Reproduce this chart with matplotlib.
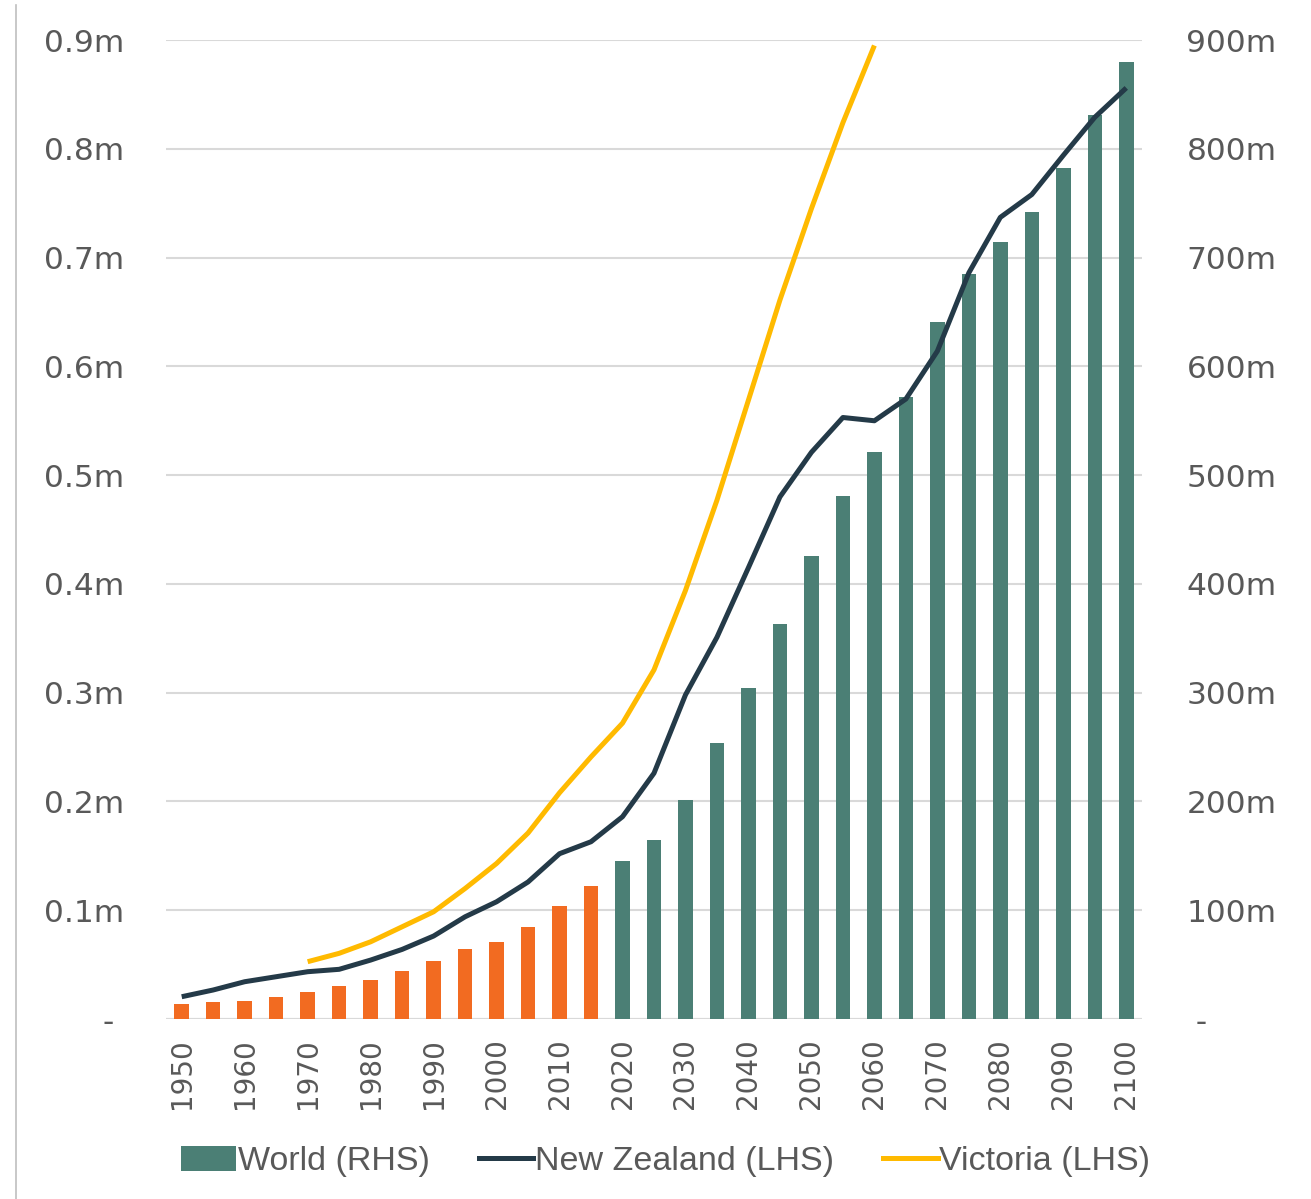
import matplotlib
matplotlib.use("Agg")
import matplotlib.pyplot as plt
from matplotlib.patches import Patch
from matplotlib.lines import Line2D
import numpy as np

# ---- data ----
years = [1950, 1955, 1960, 1965, 1970, 1975, 1980, 1985, 1990, 1995, 2000,
         2005, 2010, 2015, 2020, 2025, 2030, 2035, 2040, 2045, 2050, 2055,
         2060, 2065, 2070, 2075, 2080, 2085, 2090, 2095, 2100]
world_m = [13.5, 16, 17, 20.5, 25, 30, 36, 44, 53, 64, 71, 85, 104, 122.5,
           145, 164.5, 201, 254, 304, 363, 426, 481, 521, 572, 641, 685, 714,
           742, 782, 831, 880]
nz_m = [0.0205, 0.0267, 0.0343, 0.0389, 0.0435, 0.0457, 0.0542, 0.064, 0.0763,
        0.094, 0.1078, 0.126, 0.152, 0.163, 0.186, 0.226, 0.298, 0.351, 0.415,
        0.480, 0.521, 0.553, 0.550, 0.570, 0.614, 0.686, 0.737, 0.758, 0.794,
        0.829, 0.856]
vic_years = [1970, 1975, 1980, 1985, 1990, 1995, 2000, 2005, 2010, 2015, 2020,
             2025, 2030, 2035, 2040, 2045, 2050, 2055, 2060]
vic_m = [0.0527, 0.0604, 0.071, 0.0848, 0.0986, 0.120, 0.143, 0.171, 0.208,
         0.241, 0.272, 0.321, 0.394, 0.477, 0.569, 0.661, 0.745, 0.824, 0.895]
last_historic_year = 2015
xtick_years = [1950, 1960, 1970, 1980, 1990, 2000, 2010, 2020, 2030, 2040,
               2050, 2060, 2070, 2080, 2090, 2100]
left_ticks = [0, 0.1, 0.2, 0.3, 0.4, 0.5, 0.6, 0.7, 0.8, 0.9]
left_labels = ["- ", "0.1m", "0.2m", "0.3m", "0.4m", "0.5m", "0.6m", "0.7m", "0.8m", "0.9m"]
right_ticks = [0, 100, 200, 300, 400, 500, 600, 700, 800, 900]
right_labels = [" -", "100m", "200m", "300m", "400m", "500m", "600m", "700m", "800m", "900m"]

# ---- style ----
GREEN = "#4B7F75"
ORANGE = "#F26B21"
NAVY = "#243A48"
YELLOW = "#FFBA00"
TXT = "#595959"
GRID = "#D9D9D9"
plt.rcParams["font.family"] = ["DejaVu Sans"]
LEG_FONT = ["Liberation Sans", "DejaVu Sans"]
LW = 3.6

fig = plt.figure(figsize=(13.11, 11.99), dpi=100)
ax = fig.add_axes([0.1266, 0.1501, 0.7445, 0.8165])  # bars, RHS scale
ax2 = ax.twinx()                                        # lines, LHS scale

bar_colors = [ORANGE if y <= last_historic_year else GREEN for y in years]
ax.bar(years, world_m, width=2.3, color=bar_colors, zorder=2)
ax.set_ylim(0, 900)
ax.set_xlim(1947.5, 2102.5)
ax.yaxis.tick_right()
ax.set_yticks(right_ticks)
ax.set_yticklabels(right_labels)
ax.grid(axis="y", color=GRID, linewidth=1.5, zorder=0)
ax.set_axisbelow(True)

ax2.plot(years, nz_m, color=NAVY, linewidth=LW, solid_capstyle="butt", zorder=3)
ax2.plot(vic_years, vic_m, color=YELLOW, linewidth=LW, solid_capstyle="butt", zorder=3)
ax2.set_ylim(0, 0.9)
ax2.yaxis.tick_left()
ax2.set_yticks(left_ticks)
ax2.set_yticklabels(left_labels)

for a in (ax, ax2):
    for s in a.spines.values():
        s.set_visible(False)
    a.tick_params(axis="y", length=0, labelsize=22.5, labelcolor=TXT)

ax.tick_params(axis="y", pad=32)
ax2.tick_params(axis="y", pad=30)
ax.set_xticks(xtick_years)
ax.set_xticklabels([str(y) for y in xtick_years], rotation=90)
ax.tick_params(axis="x", length=0, labelsize=20, labelcolor=TXT, pad=14)
ax2.tick_params(axis="x", length=0)
ax.axhline(0, color=GRID, linewidth=1.5, zorder=1)

handles = [Patch(facecolor=GREEN, edgecolor="none"),
           Line2D([], [], color=NAVY, linewidth=LW),
           Line2D([], [], color=YELLOW, linewidth=LW)]
labels = ["World (RHS)", "New Zealand (LHS)", "Victoria (LHS)"]
fig.legend(handles, labels, loc="center", bbox_to_anchor=(0.508, 0.031), ncol=3,
           frameon=False, prop={"family": LEG_FONT, "size": 24.5},
           handlelength=1.6, handleheight=0.75,
           handletextpad=0.05, columnspacing=1.45, labelcolor=TXT)

fig.add_artist(Line2D([16 / 1311, 16 / 1311], [0.0, 0.996], color="#BFBFBF",
                      linewidth=1.2, transform=fig.transFigure))

fig.savefig("out.png", dpi=100, facecolor="white")
